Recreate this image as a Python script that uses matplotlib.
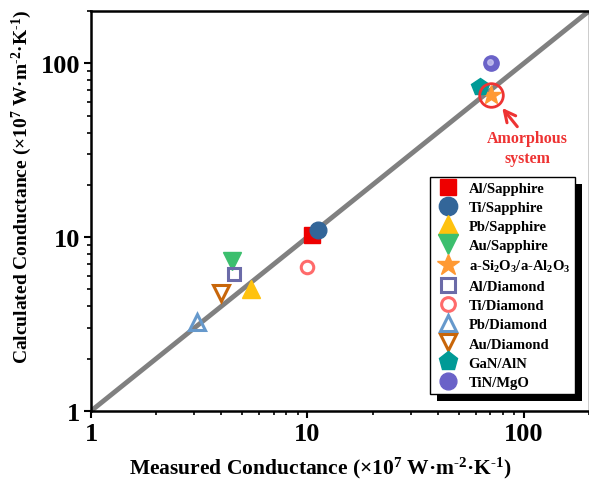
import matplotlib
matplotlib.use("Agg")
import matplotlib.pyplot as plt
from matplotlib.patches import Rectangle

plt.rcParams['font.family'] = ['Liberation Serif', 'DejaVu Serif']
plt.rcParams['font.weight'] = 'bold'
plt.rcParams['mathtext.fontset'] = 'custom'
plt.rcParams['mathtext.rm'] = 'Liberation Serif:bold'
plt.rcParams['mathtext.bf'] = 'Liberation Serif:bold'
plt.rcParams['mathtext.it'] = 'Liberation Serif:bold'
plt.rcParams['mathtext.default'] = 'bf'

nombres = ['Al/Sapphire', 'Ti/Sapphire', 'Pb/Sapphire', 'Au/Sapphire',
           'a-Si$_2$O$_3$/a-Al$_2$O$_3$', 'Al/Diamond', 'Ti/Diamond',
           'Pb/Diamond', 'Au/Diamond', 'GaN/AlN', 'TiN/MgO']
medido = [10.5, 11.2, 5.5, 4.5, 70.5, 4.6, 10.0, 3.1, 4.0, 62.5, 70.5]
calculado = [10.3, 11.0, 5.0, 7.3, 65.5, 6.1, 6.7, 3.25, 4.8, 73.0, 100.0]

marcadores = ['s', 'o', '^', 'v', '*', 's', 'o', '^', 'v', 'p', 'o']
colores = ['#ee0000', '#336699', '#ffc20e', '#3cbf6e', '#ff9933', '#6b6ba8',
           '#ff6b6b', '#6699cc', '#c8660a', '#009a96', '#6a62c8']
rellenos = [True, True, True, True, True, False, False, False, False, True, True]
tamanos = [11, 12, 13, 13, 15, 9, 9, 11, 11, 13, 11]

# anotacion "Amorphous system"
punto_amorfo = (70.5, 65.5)
flecha_punta = (78.0, 57.0)
flecha_cola = (95.0, 42.0)
texto_pos = (104.0, 32.5)

unidades = r'(×10$^{7}$ W·m$^{\text{-2}}$·K$^{\text{-1}}$)'

fig = plt.figure(figsize=(5.89, 4.81), dpi=100)
ax = fig.add_axes([0.1545, 0.1435, 0.8455, 0.8315])

ax.plot([1, 200], [1, 200], color='#808080', lw=3.5, zorder=1)

for i in range(len(nombres)):
    if rellenos[i]:
        ax.plot(medido[i], calculado[i], linestyle='none', marker=marcadores[i],
                markersize=tamanos[i], color=colores[i], markeredgecolor=colores[i],
                label=nombres[i], zorder=3)
    else:
        ax.plot(medido[i], calculado[i], linestyle='none', marker=marcadores[i],
                markersize=tamanos[i], markerfacecolor='none', markeredgecolor=colores[i],
                markeredgewidth=2.2, label=nombres[i], zorder=3)

# brillo de la esfera TiN/MgO
ax.plot(medido[10] * 0.985, calculado[10] * 1.015, linestyle='none', marker='o',
        markersize=4, color='#c8c4f0', alpha=0.8, zorder=4)

ax.plot(*punto_amorfo, linestyle='none', marker='o', markersize=17,
        markerfacecolor='none', markeredgecolor='#ee3333', markeredgewidth=2, zorder=5)
ax.annotate('', xy=flecha_punta, xytext=flecha_cola,
            arrowprops=dict(arrowstyle='->', color='#ee3333', lw=2.2, mutation_scale=20))
ax.text(*texto_pos, 'Amorphous\nsystem', color='#ee3333', fontsize=11.5,
        fontweight='bold', ha='center', va='center', linespacing=1.3)

ax.set_xscale('log')
ax.set_yscale('log')
ax.set_xlim(1, 200)
ax.set_ylim(1, 200)
ax.set_xticks([1, 10, 100])
ax.set_xticklabels(['1', '10', '100'])
ax.set_yticks([1, 10, 100])
ax.set_yticklabels(['1', '10', '100'])

ax.tick_params(which='major', direction='out', length=5, width=1.5, labelsize=19, pad=3)
ax.tick_params(which='minor', direction='out', length=3, width=1.2)
ax.tick_params(top=False, right=False, which='both')
for lado in ['left', 'bottom', 'top']:
    ax.spines[lado].set_linewidth(1.8)
ax.spines['right'].set_linewidth(1.0)

ax.set_xlabel('Measured Conductance ' + unidades, fontsize=15.5, fontweight='bold')
ax.set_ylabel('Calculated Conductance ' + unidades, fontsize=14, fontweight='bold')
ax.xaxis.set_label_coords(0.46, -0.11)
ax.yaxis.set_label_coords(-0.115, 0.562)

leyenda = ax.legend(loc='upper left', bbox_to_anchor=(430 / 589, 1 - 178 / 481),
                    bbox_transform=fig.transFigure, fancybox=False, framealpha=1,
                    edgecolor='black', fontsize=10.5, labelspacing=0.4,
                    handletextpad=0.6, borderpad=0.35, borderaxespad=0,
                    handlelength=1.7, numpoints=1, markerscale=1.1)
leyenda.get_frame().set_linewidth(1.0)
leyenda.set_zorder(10)

# sombra de la leyenda
fig.canvas.draw()
caja = leyenda.get_window_extent()
sombra = Rectangle((caja.x0 + 7, caja.y0 - 7), caja.width, caja.height,
                   transform=None, facecolor='black', edgecolor='none', zorder=9)
ax.add_artist(sombra)

fig.savefig('out.png', dpi=100)
